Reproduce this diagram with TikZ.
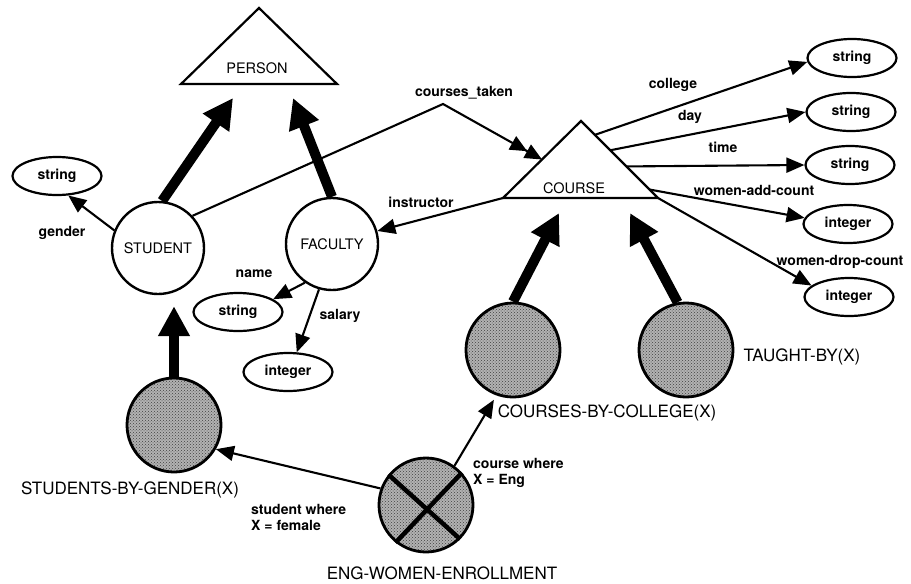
\documentclass[tikz,border=0pt]{standalone}
\usepackage{fontspec}
\setmainfont{TeX Gyre Heros}
\usetikzlibrary{arrows.meta,shapes.geometric,patterns}

\tikzset{
  entity/.style={draw, circle, line width=2.4pt, minimum size=92pt, inner sep=0pt,
    font=\fontsize{14.5}{16}\selectfont},
  derived/.style={draw, circle, line width=2.8pt, minimum size=94pt, inner sep=0pt,
    preaction={fill=black!30}, pattern=crosshatch dots, pattern color=black!75},
  basetype/.style={draw, ellipse, line width=2.2pt, minimum width=89pt, minimum height=38pt,
    inner sep=0pt, font=\fontsize{14}{16}\selectfont\bfseries},
  tri/.style={draw, line width=2.2pt, line join=miter},
  attr/.style={line width=2.1pt, -{Triangle[length=18pt,width=15pt]}},
  setattr/.style={line width=2.1pt, -{Triangle[length=17pt,width=15pt] Triangle[length=17pt,width=15pt]}},
  isa/.style={line width=10pt, -{Triangle[length=30pt,width=30pt]}},
  lbl/.style={inner sep=0pt, font=\fontsize{14}{16}\selectfont\bfseries},
  biglbl/.style={inner sep=0pt, font=\fontsize{17}{20}\selectfont},
}

\begin{document}
\begin{tikzpicture}[x=1pt, y=-1pt]
\useasboundingbox (0,0) rectangle (911,584);

% classes
\draw[tri] (259,8) coordinate (person top) -- (337,84) coordinate (person right)
  -- (181,84) coordinate (person left) -- cycle;
\node[inner sep=0pt, font=\fontsize{14.5}{16}\selectfont] (person) at (257,68) {PERSON};
\draw[tri] (581,121) coordinate (course top) -- (658,198) coordinate (course right)
  -- (503,198) coordinate (course left) -- cycle;
\node[inner sep=0pt, font=\fontsize{14.5}{16}\selectfont] (course) at (574,188) {COURSE};

\path (course top) -- (course right) coordinate[pos=0.18] (c1) coordinate[pos=0.38] (c2)
  coordinate[pos=0.59] (c3) coordinate[pos=0.89] (c4);
\path (course top) -- (course left) coordinate[pos=0.5] (cmid);

\coordinate (person in1) at (233,98);
\coordinate (person in2) at (293,98);
\coordinate (course in1) at (559,213);
\coordinate (course in2) at (630,213);
\coordinate (ct bend) at (443,104);

\node[entity] (student) at (158,248) {STUDENT};
\node[entity] (faculty) at (332,244) {FACULTY};

% base types
\node[basetype] (gstr) at (57,176) {string};
\node[basetype] (nstr) at (238,312) {string};
\node[basetype] (salint) at (288,372) {integer};
\node[basetype] (colstr) at (852,58) {string};
\node[basetype] (daystr) at (851,112) {string};
\node[basetype] (timestr) at (850,165) {string};
\node[basetype] (addint) at (848,224) {integer};
\node[basetype] (dropint) at (849,297) {integer};

% derived classes
\node[derived] (sbg) at (174,425) {};
\node[derived] (cbc) at (513,350) {};
\node[derived] (tby) at (686,350) {};
\node[derived] (ewe) at (426,505) {};
\draw[line width=4.5pt] (ewe.141) -- (ewe.-45);
\draw[line width=4.5pt] (ewe.42) -- (ewe.-129);

\node[biglbl] (sbg label) at (130,490) {STUDENTS-BY-GENDER(X)};
\node[biglbl] (cbc label) at (607,413) {COURSES-BY-COLLEGE(X)};
\node[biglbl] (tby label) at (802,357) {TAUGHT-BY(X)};
\node[biglbl] (ewe label) at (442,573) {ENG-WOMEN-ENROLLMENT};

% subclass links
\draw[isa] (student.85) -- (person in1);
\draw[isa] (faculty.90) -- (person in2);
\draw[isa, shorten >=11pt] (sbg.north) -- (sbg.north |- student.south);
\draw[isa] (cbc.north) -- (course in1);
\draw[isa] (tby.100) -- (course in2);

% attributes
\draw[attr] (student.158) -- (gstr.-60);
\draw[setattr] (student.43) -- (ct bend) -- (cmid);
\draw[attr] (course left) -- (faculty.16);
\draw[attr] (faculty.-125) -- (nstr.20);
\draw[attr] (faculty.-106) -- (salint.66);
\draw[attr] (c1) -- (colstr.185);
\draw[attr] (c2) -- (daystr.west);
\draw[attr] (c3) -- (timestr.west);
\draw[attr] (c4) -- (addint.172);
\draw[attr] (course right) -- (dropint.163);
\draw[attr] (ewe.160) -- (sbg.-30);
\draw[attr, shorten >=5pt] (ewe.54) -- (cbc.-110);

\node[lbl] (gender label) at (62,233) {gender};
\node[lbl] (ct label) at (464,93) {courses\_taken};
\node[lbl] (instr label) at (421,202) {instructor};
\node[lbl] (name label) at (254,274) {name};
\node[lbl] (salary label) at (340,316) {salary};
\node[lbl] (college label) at (673,85) {college};
\node[lbl] (day label) at (690,117) {day};
\node[lbl] (time label) at (723,147) {time};
\node[lbl] (add label) at (754,190) {women-add-count};
\node[lbl] (drop label) at (840,262) {women-drop-count};
\node[lbl, align=left, anchor=west] (stw label) at (251,517) {student where\\X = female};
\node[lbl, align=left, anchor=west] (cw label) at (473,473) {course where\\X = Eng};
\end{tikzpicture}
\end{document}
